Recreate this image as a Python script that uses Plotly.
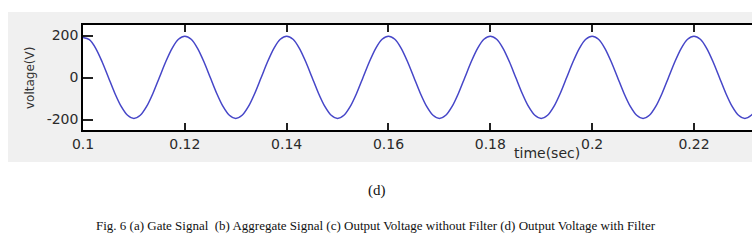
import plotly.graph_objects as go

# sample times (s) and read-off output voltage (V)
time_s = [
    0.1, 0.10125, 0.1025, 0.10375, 0.105, 0.10625, 0.1075, 0.10875,
    0.11, 0.11125, 0.1125, 0.11375, 0.115, 0.11625, 0.1175, 0.11875,
    0.12, 0.12125, 0.1225, 0.12375, 0.125, 0.12625, 0.1275, 0.12875,
    0.13, 0.13125, 0.1325, 0.13375, 0.135, 0.13625, 0.1375, 0.13875,
    0.14, 0.14125, 0.1425, 0.14375, 0.145, 0.14625, 0.1475, 0.14875,
    0.15, 0.15125, 0.1525, 0.15375, 0.155, 0.15625, 0.1575, 0.15875,
    0.16, 0.16125, 0.1625, 0.16375, 0.165, 0.16625, 0.1675, 0.16875,
    0.17, 0.17125, 0.1725, 0.17375, 0.175, 0.17625, 0.1775, 0.17875,
    0.18, 0.18125, 0.1825, 0.18375, 0.185, 0.18625, 0.1875, 0.18875,
    0.19, 0.19125, 0.1925, 0.19375, 0.195, 0.19625, 0.1975, 0.19875,
    0.2, 0.20125, 0.2025, 0.20375, 0.205, 0.20625, 0.2075, 0.20875,
    0.21, 0.21125, 0.2125, 0.21375, 0.215, 0.21625, 0.2175, 0.21875,
    0.22, 0.22125, 0.2225, 0.22375, 0.225, 0.22625, 0.2275, 0.22875,
    0.23, 0.23125, 0.2325,
]
voltage = [
    190, 180, 139, 75, 0, -75, -138, -180,
    -195, -180, -138, -75, 0, 75, 139, 182,
    197, 182, 139, 75, 0, -75, -138, -180,
    -195, -180, -138, -75, 0, 75, 139, 182,
    197, 182, 139, 75, 0, -75, -138, -180,
    -195, -180, -138, -75, 0, 75, 139, 182,
    197, 182, 139, 75, 0, -75, -138, -180,
    -195, -180, -138, -75, 0, 75, 139, 182,
    197, 182, 139, 75, 0, -75, -138, -180,
    -195, -180, -138, -75, 0, 75, 139, 182,
    197, 182, 139, 75, 0, -75, -138, -180,
    -195, -180, -138, -75, 0, 75, 139, 182,
    197, 182, 139, 75, 0, -75, -138, -180,
    -195, -180, -138,
]

x_ticks = [0.1, 0.12, 0.14, 0.16, 0.18, 0.2, 0.22]
x_tick_labels = ["0.1", "0.12", "0.14", "0.16", "0.18", "0.2", "0.22"]
y_ticks = [-200, 0, 200]
y_tick_labels = ["-200", "0", "200"]

W, H = 752, 250
L, T, B = 83, 25, 130  # plot area pixel bounds
PW, PH = W - L, B - T

def px(x):
    return (x - L) / PW

def py(y):
    return (B - y) / PH

fig = go.Figure()
fig.add_trace(go.Scatter(x=time_s, y=voltage, mode="lines",
                         line=dict(color="#4646c8", width=1.5, shape="spline", smoothing=0.8),
                         showlegend=False, hoverinfo="skip"))

axis_font = dict(family="DejaVu Sans, sans-serif", size=14, color="#2a2a2a")
fig.update_layout(
    width=W, height=H,
    margin=dict(l=L, r=0, t=T, b=H - B),
    paper_bgcolor="white", plot_bgcolor="white",
    xaxis=dict(range=[0.1, 0.2314], tickvals=x_ticks, ticktext=x_tick_labels,
               ticks="inside", ticklen=7, tickcolor="#222", tickwidth=1.5,
               showline=True, linecolor="black", linewidth=1.5, mirror="ticks",
               showgrid=False, zeroline=False, tickfont=axis_font),
    yaxis=dict(range=[-250, 250], tickvals=y_ticks, ticktext=y_tick_labels,
               ticks="inside", ticklen=10, tickcolor="#222", tickwidth=1.5,
               showline=True, linecolor="black", linewidth=1.5, mirror=False,
               showgrid=False, zeroline=False, tickfont=axis_font),
    shapes=[
        dict(type="rect", xref="paper", yref="paper",
             x0=px(8), x1=px(760), y0=py(162), y1=py(12),
             fillcolor="#f0f0f0", line=dict(width=0), layer="below"),
        dict(type="rect", xref="paper", yref="paper",
             x0=0, x1=1.02, y0=0, y1=1,
             fillcolor="white", line=dict(width=0), layer="below"),
    ],
    annotations=[
        dict(text="voltage(V)", xref="paper", yref="paper", x=px(30), y=py(78),
             showarrow=False, textangle=-90, xanchor="center", yanchor="middle",
             font=dict(family="DejaVu Sans, sans-serif", size=12, color="#333")),
        dict(text="time(sec)", xref="paper", yref="paper", x=px(547), y=py(153),
             showarrow=False, xanchor="center", yanchor="middle",
             font=dict(family="DejaVu Sans, sans-serif", size=14, color="#2a2a2a")),
        dict(text="(d)", xref="paper", yref="paper", x=px(377), y=py(190),
             showarrow=False, xanchor="center", yanchor="middle",
             font=dict(family="Liberation Serif, Times New Roman, serif", size=15, color="#111")),
        dict(text="Fig. 6 (a) Gate Signal  (b) Aggregate Signal (c) Output Voltage without Filter (d) Output Voltage with Filter",
             xref="paper", yref="paper", x=px(376), y=py(225),
             showarrow=False, xanchor="center", yanchor="middle",
             font=dict(family="Liberation Serif, Times New Roman, serif", size=13, color="#111")),
    ],
)

fig.write_html("out.html")
